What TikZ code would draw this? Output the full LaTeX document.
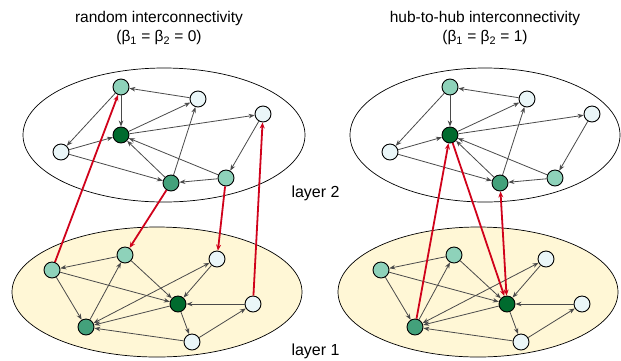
\documentclass[tikz,border=0pt]{standalone}
\usepackage{fontspec}
\setmainfont{Liberation Sans}
\usetikzlibrary{arrows.meta}

\definecolor{hubgreen}{HTML}{006B2E}
\definecolor{midgreen}{HTML}{43A17B}
\definecolor{lightgreen}{HTML}{8ED2BA}
\definecolor{palenode}{HTML}{EAF6F8}
\definecolor{layerfill}{HTML}{FFF7D6}
\definecolor{linkred}{HTML}{D0021B}
\definecolor{edgegray}{HTML}{4A4A4A}

\tikzset{
  vtx/.style={circle, draw=black, line width=0.9pt, minimum size=16pt, inner sep=0pt},
  link/.style={draw=edgegray, line width=0.8pt, -{Stealth[length=6pt,width=4.5pt]}},
  twolink/.style={link, {Stealth[length=6pt,width=4.5pt]}-{Stealth[length=6pt,width=4.5pt]}},
  inter/.style={draw=linkred, line width=1.8pt, -{Stealth[length=6pt,width=5pt]}},
  layerlabel/.style={anchor=west, font=\fontsize{16}{18}\selectfont},
  title/.style={font=\fontsize{15.5}{19}\selectfont, align=center},
}

\begin{document}
\begin{tikzpicture}[x=1pt, y=-1pt]
    \useasboundingbox (0,0) rectangle (621,360);

    % Titles
    \node[title] (titlea) at (159, 28) {random interconnectivity\\(β\textsubscript{1} = β\textsubscript{2} = 0)};
    \node[title] (titleb) at (485, 28) {hub-to-hub interconnectivity\\(β\textsubscript{1} = β\textsubscript{2} = 1)};

    % Layers
    \draw[line width=0.7pt] (164, 135) ellipse [x radius=141, y radius=67];
    \draw[line width=0.7pt] (485, 135) ellipse [x radius=135, y radius=67];
    \draw[line width=0.7pt, fill=layerfill] (157, 292) ellipse [x radius=145, y radius=65];
    \draw[line width=0.7pt, fill=layerfill] (478, 292) ellipse [x radius=140, y radius=65];

    \node[layerlabel] (lab2) at (288, 193) {layer 2};
    \node[layerlabel] (lab1) at (288, 351) {layer 1};

    % Both networks
    \foreach \s/\dx in {a/0, b/329} {
        % layer 2
        \node[vtx, fill=lightgreen] (\s2top)  at (121+\dx, 87)  {};
        \node[vtx, fill=palenode]   (\s2up)   at (198+\dx, 99)  {};
        \node[vtx, fill=palenode]   (\s2far)  at (263+\dx, 114) {};
        \node[vtx, fill=hubgreen]   (\s2hub)  at (121+\dx, 135) {};
        \node[vtx, fill=palenode]   (\s2left) at (61+\dx, 152)  {};
        \node[vtx, fill=midgreen]   (\s2mid)  at (171+\dx, 183) {};
        \node[vtx, fill=lightgreen] (\s2side) at (226+\dx, 178) {};

        \draw[link] (\s2up) -- (\s2top);
        \draw[link] (\s2top) -- (\s2hub);
        \draw[link] (\s2top) -- (\s2left);
        \draw[link] (\s2hub) -- (\s2up);
        \draw[link] (\s2hub) -- (\s2far);
        \draw[link] (\s2left) -- (\s2hub);
        \draw[link] (\s2left) -- (\s2mid);
        \draw[link] (\s2mid) -- (\s2hub);
        \draw[link] (\s2mid) -- (\s2up);
        \draw[link] (\s2side) -- (\s2mid);
        \draw[link] (\s2side) -- (\s2hub);
        \draw[link] (\s2far) -- (\s2side);

        % layer 1
        \node[vtx, fill=lightgreen] (\s1left) at (52+\dx, 270)  {};
        \node[vtx, fill=lightgreen] (\s1top)  at (125+\dx, 255) {};
        \node[vtx, fill=palenode]   (\s1up)   at (217+\dx, 259) {};
        \node[vtx, fill=hubgreen]   (\s1hub)  at (178+\dx, 304) {};
        \node[vtx, fill=palenode]   (\s1side) at (253+\dx, 304) {};
        \node[vtx, fill=midgreen]   (\s1mid)  at (86+\dx, 327)  {};
        \node[vtx, fill=palenode]   (\s1low)  at (192+\dx, 342) {};

        \draw[link] (\s1top) -- (\s1left);
        \draw[link] (\s1left) -- (\s1hub);
        \draw[link] (\s1left) -- (\s1mid);
        \draw[link] (\s1mid) -- (\s1top);
        \draw[link] (\s1top) -- (\s1hub);
        \draw[link] (\s1hub) -- (\s1mid);
        \draw[twolink] (\s1mid) -- (\s1up);
        \draw[link] (\s1up) -- (\s1hub);
        \draw[link] (\s1side) -- (\s1hub);
        \draw[link] (\s1hub) -- (\s1low);
        \draw[link] (\s1low) -- (\s1side);
        \draw[link] (\s1low) -- (\s1mid);
    }

    % Interlayer links: random
    \draw[inter] (a1left) -- (a2top);
    \draw[inter] (a2mid) -- (a1top);
    \draw[inter] (a2side) -- (a1up);
    \draw[inter] (a1side) -- (a2far);

    % Interlayer links: hub-to-hub
    \draw[inter] (b1mid) -- (b2hub);
    \draw[inter] (b2hub) -- (b1hub);
    \draw[inter, {Stealth[length=6pt,width=5pt]}-{Stealth[length=6pt,width=5pt]}] (b2mid) -- (b1hub);

\end{tikzpicture}
\end{document}
